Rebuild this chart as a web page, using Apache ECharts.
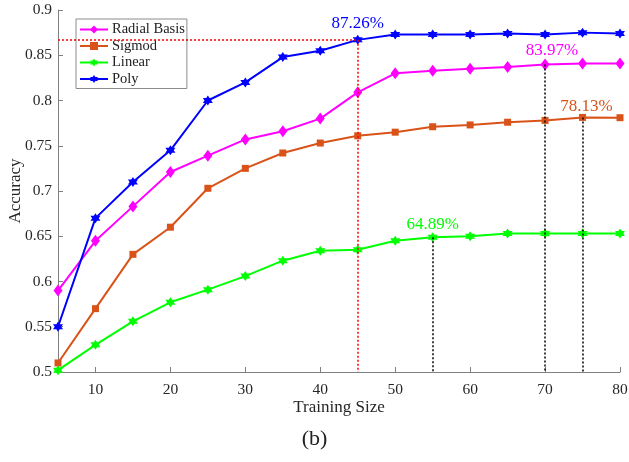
<!DOCTYPE html>
<html>
<head>
<meta charset="utf-8">
<script src="https://cdn.jsdelivr.net/npm/echarts@6/dist/echarts.min.js"></script>
<style>
html, body { margin: 0; padding: 0; background: #fff; }
#chart { width: 629px; height: 462px; }
</style>
</head>
<body>
<div id="chart"></div>
<script>
const trainingSize = [5, 10, 15, 20, 25, 30, 35, 40, 45, 50, 55, 60, 65, 70, 75, 80]
const radialBasis = [0.590, 0.645, 0.683, 0.721, 0.739, 0.757, 0.766, 0.780, 0.809, 0.830, 0.833, 0.835, 0.837, 0.8397, 0.841, 0.841]
const sigmod = [0.510, 0.570, 0.630, 0.660, 0.703, 0.725, 0.742, 0.753, 0.761, 0.765, 0.771, 0.773, 0.776, 0.778, 0.7813, 0.781]
const linear = [0.502, 0.530, 0.556, 0.577, 0.591, 0.606, 0.623, 0.634, 0.635, 0.645, 0.6489, 0.650, 0.653, 0.653, 0.653, 0.653]
const poly = [0.550, 0.670, 0.710, 0.745, 0.800, 0.820, 0.848, 0.855, 0.867, 0.873, 0.873, 0.873, 0.874, 0.873, 0.875, 0.874]
const xTicks = [10, 20, 30, 40, 50, 60, 70, 80]

const font = 'Liberation Serif'
const hexagram = 'path://M0,-10L2.887,-5L8.66,-5L5.774,0L8.66,5L2.887,5L0,10L-2.887,5L-8.66,5L-5.774,0L-8.66,-5L-2.887,-5Z'

const pairs = (ys) => trainingSize.map((x, i) => [x, ys[i]])
const at = (ys, x) => ys[trainingSize.indexOf(x)]

// dotted drop line from a point down to the x axis
const drop = (ys, x, color) => [
    { coord: [x, at(ys, x)], lineStyle: { color: color } },
    { coord: [x, 0.5] }
]

const note = (ys, x, text, color, offset) => ({
    coord: [x, at(ys, x)],
    value: text,
    label: { color: color, offset: offset }
})

const markStyle = {
    symbol: 'circle',
    symbolSize: 1,
    itemStyle: { color: 'rgba(0,0,0,0)' },
    label: { show: true, position: 'inside', formatter: '{c}', fontFamily: font, fontSize: 17 }
}

const lineMark = (data) => ({
    silent: true,
    symbol: ['none', 'none'],
    label: { show: false },
    lineStyle: { type: [2, 2], width: 1.5 },
    data: data
})

const chart = echarts.init(document.getElementById('chart'))

const option = {
    animation: false,
    textStyle: { fontFamily: font },
    title: {
        text: '(b)',
        left: 'center',
        top: 423,
        textStyle: { fontFamily: font, fontSize: 22, fontWeight: 'normal', color: '#222' }
    },
    legend: {
        orient: 'vertical',
        left: 76,
        top: 19,
        padding: [3, 2, 2, 3],
        itemGap: 1.5,
        itemWidth: 28,
        itemHeight: 10,
        backgroundColor: '#fff',
        borderColor: '#8c8c8c',
        borderWidth: 1,
        borderRadius: 0,
        textStyle: { fontFamily: font, fontSize: 14.5, color: '#222', padding: [0, 0, 0, -1] },
        data: ['Radial Basis', 'Sigmod', 'Linear', 'Poly']
    },
    grid: { left: 58, right: 9, top: 10, bottom: 90, outerBoundsMode: 'none', containLabel: false },
    xAxis: {
        type: 'value',
        min: 5,
        max: 80,
        interval: 5,
        name: 'Training Size',
        nameLocation: 'middle',
        nameGap: 27,
        nameMoveOverlap: false,
        nameTextStyle: { fontFamily: font, fontSize: 17, color: '#262626' },
        axisLine: { lineStyle: { color: '#808080', width: 1 } },
        axisTick: { inside: true, length: 5, customValues: xTicks, lineStyle: { color: '#808080' } },
        axisLabel: { customValues: xTicks, fontFamily: font, fontSize: 15.5, color: '#262626', margin: 10 },
        splitLine: { show: false }
    },
    yAxis: {
        type: 'value',
        min: 0.5,
        max: 0.9,
        interval: 0.05,
        name: 'Accuracy',
        nameLocation: 'middle',
        nameGap: 34,
        nameMoveOverlap: false,
        nameTextStyle: { fontFamily: font, fontSize: 17, color: '#262626' },
        axisLine: { show: true, lineStyle: { color: '#808080', width: 1 } },
        axisTick: { show: true, inside: true, length: 5, lineStyle: { color: '#808080' } },
        axisLabel: { fontFamily: font, fontSize: 15.5, color: '#262626', margin: 6 },
        splitLine: { show: false }
    },
    series: [
        {
            name: 'Radial Basis',
            type: 'line',
            data: pairs(radialBasis),
            color: '#ff00ff',
            symbol: 'diamond',
            symbolSize: [9, 12],
            lineStyle: { width: 2 },
            markLine: lineMark([drop(radialBasis, 70, '#000')]),
            markPoint: Object.assign({}, markStyle, {
                data: [note(radialBasis, 70, '83.97%', '#ff00ff', [7, -14])]
            })
        },
        {
            name: 'Sigmod',
            type: 'line',
            data: pairs(sigmod),
            color: '#d95319',
            symbol: 'rect',
            symbolSize: 7,
            lineStyle: { width: 2 },
            markLine: lineMark([drop(sigmod, 75, '#000')]),
            markPoint: Object.assign({}, markStyle, {
                data: [note(sigmod, 75, '78.13%', '#d95319', [4, -11])]
            })
        },
        {
            name: 'Linear',
            type: 'line',
            data: pairs(linear),
            color: '#00ff00',
            symbol: hexagram,
            symbolSize: 10,
            lineStyle: { width: 2 },
            markLine: lineMark([drop(linear, 55, '#000')]),
            markPoint: Object.assign({}, markStyle, {
                data: [note(linear, 55, '64.89%', '#00ff00', [0, -13])]
            })
        },
        {
            name: 'Poly',
            type: 'line',
            data: pairs(poly),
            color: '#0000ff',
            symbol: hexagram,
            symbolSize: 10,
            lineStyle: { width: 2 },
            markLine: lineMark([
                drop(poly, 45, '#ff0000'),
                [
                    { coord: [5, at(poly, 45)], lineStyle: { color: '#ff0000' } },
                    { coord: [45, at(poly, 45)] }
                ]
            ]),
            markPoint: Object.assign({}, markStyle, {
                data: [note(poly, 45, '87.26%', '#0000ff', [0, -16])]
            })
        }
    ]
}

chart.setOption(option)
</script>
</body>
</html>
